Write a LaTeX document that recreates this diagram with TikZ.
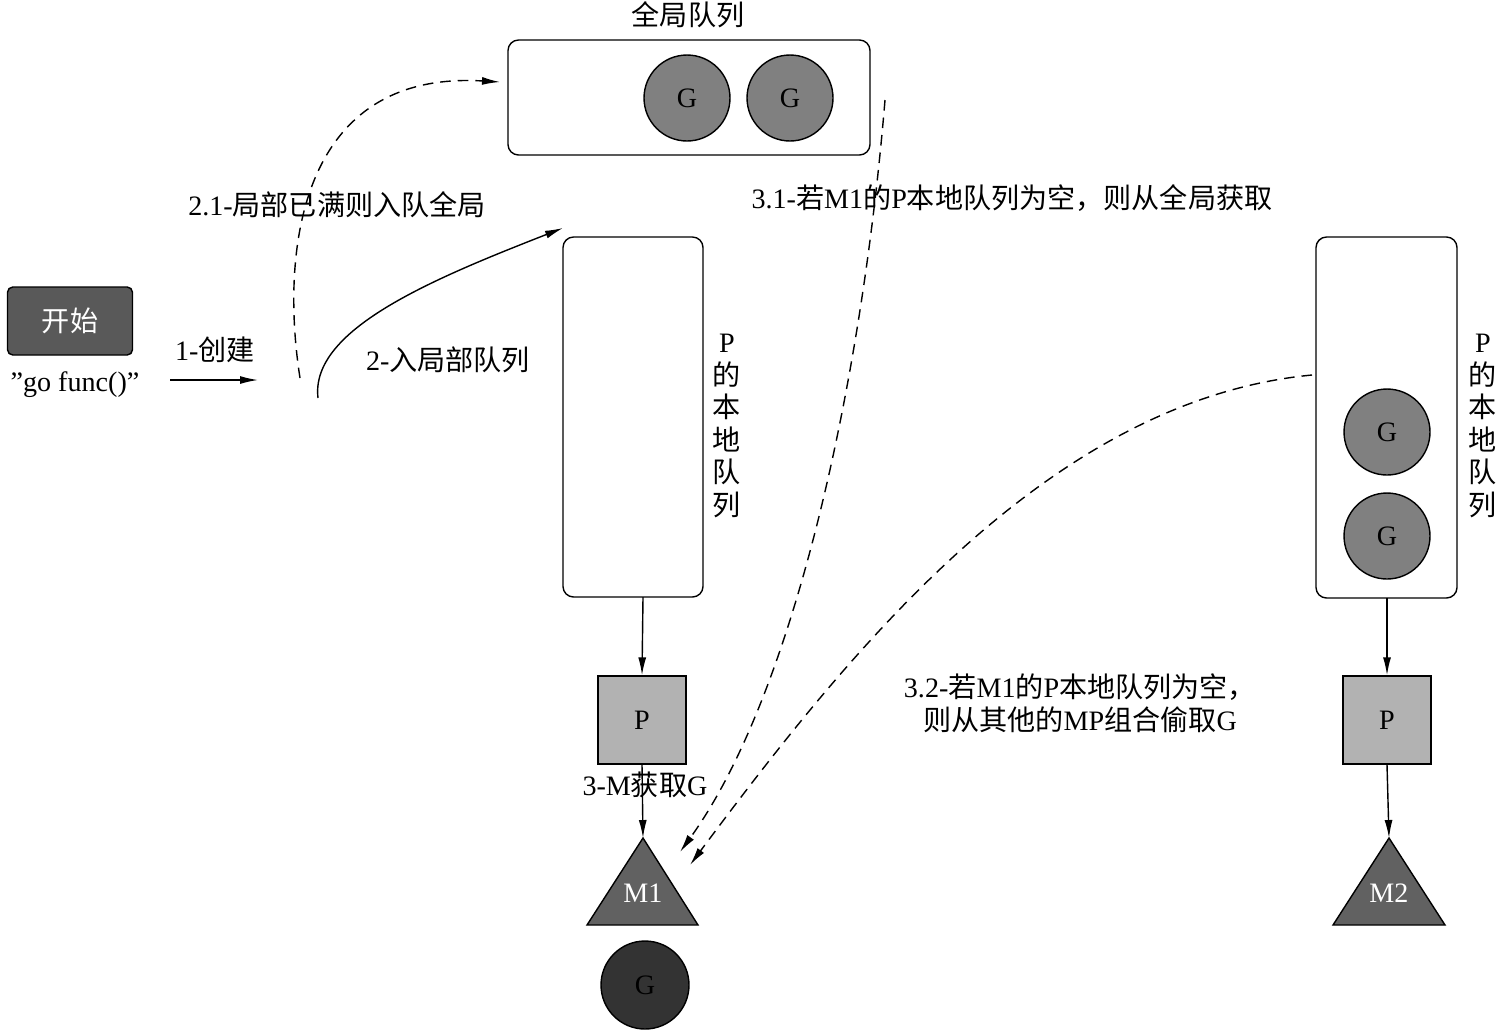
\documentclass[tikz,border=0pt]{standalone}
\usepackage{fontspec}
\setmainfont{Liberation Serif}
\newfontfamily\cjk{Noto Sans CJK SC}
\usetikzlibrary{arrows.meta}
\begin{document}
\begin{tikzpicture}[x=0.02cm,y=-0.02cm,
  every node/.style={font=\fontsize{16}{19}\selectfont},
  box/.style={draw,rounded corners=6pt,line width=0.8pt},
  gc/.style={draw,circle,minimum size=1.72cm,inner sep=0pt,fill=gray!100!black!50,line width=0.8pt,font=\fontsize{16}{19}\selectfont},
  pbox/.style={draw,fill=black!30,minimum size=1.76cm,inner sep=0pt,line width=0.8pt},
  tip/.style={-{Latex[length=0.36cm,width=0.16cm]}},
  conn/.style={tip,line width=0.8pt},
  dconn/.style={tip,line width=0.8pt,dash pattern=on 6pt off 4pt}]
\useasboundingbox (0,0) rectangle (1500,1029);
% global queue
\node (gqt) at (688,15) {\cjk 全局队列};
\draw[box] (508,40) rectangle (870,155);
\coordinate (gq) at (508,82);
\node[gc,fill=black!50] (g1) at (687,98) {G};
\node[gc,fill=black!50] (g2) at (790,98) {G};
% start
\node[draw,fill=black!65,text=white,rounded corners=3pt,minimum width=2.5cm,minimum height=1.36cm,line width=0.8pt] (start) at (70,321) {\cjk 开始};
\node (gofunc) at (75,385) {"go func()"};
\node (create) at (215,350) {1-{\cjk 创建}};
\coordinate (c1) at (170,380); \coordinate (c2) at (258,380);
\draw[conn] (c1) -- (c2);
% 2.1
\node (l21) at (337,205) {2.1-{\cjk 局部已满则入队全局}};
\coordinate (d1) at (300,378);
\draw[dconn] (d1) .. controls (280,250) and (300,70) .. (500,82);
\node (l2) at (448,360) {2-{\cjk 入局部队列}};
\coordinate (s1) at (318,398); \coordinate (s2) at (563,228);
\draw[conn] (s1) .. controls (310,330) and (430,280) .. (s2);
% P1 local queue
\draw[box] (563,237) rectangle (703,597);
\coordinate (q1b) at (643,597);
\node[align=center,font=\fontsize{16}{18.5}\selectfont] (q1l) at (727,426) {P\\{\cjk 的}\\{\cjk 本}\\{\cjk 地}\\{\cjk 队}\\{\cjk 列}};
\node[pbox] (p1) at (642,720) {P};
\draw[conn] (q1b) -- (p1.north);
\node (l3) at (645,785) {3-M{\cjk 获取}G};
\fill[black!62] (643,838) -- (698,925) -- (587,925) -- cycle;
\draw[line width=0.8pt] (643,838) -- (698,925) -- (587,925) -- cycle;
\node[text=white] (m1) at (643,893) {M1};
\coordinate (m1t) at (643,838);
\draw[conn] (p1.south) -- (m1t);
\node[gc,fill=black!80,minimum size=1.76cm] (g3) at (645,985) {G};
% 3.1
\node (l31) at (1012,198) {3.1-{\cjk 若}M1{\cjk 的}P{\cjk 本地队列为空，则从全局获取}};
\coordinate (e1) at (885,100); \coordinate (e2) at (680,852);
\draw[dconn] (e1) .. controls (860,400) and (790,700) .. (e2);
% right queue
\draw[box] (1316,237) rectangle (1457,598);
\node[gc,fill=black!50] (g4) at (1387,432) {G};
\node[gc,fill=black!50] (g5) at (1387,536) {G};
\node[align=center,font=\fontsize{16}{18.5}\selectfont] (q2l) at (1483,426) {P\\{\cjk 的}\\{\cjk 本}\\{\cjk 地}\\{\cjk 队}\\{\cjk 列}};
\coordinate (f1) at (1312,375); \coordinate (f2) at (690,865);
\draw[dconn] (f1) .. controls (1050,400) and (850,650) .. (f2);
\node[align=center] (l32) at (1080,703) {3.2-{\cjk 若}M1{\cjk 的}P{\cjk 本地队列为空，}\\{\cjk 则从其他的}MP{\cjk 组合偷取}G};
\coordinate (q2b) at (1387,598);
\node[pbox] (p2) at (1387,720) {P};
\draw[conn] (q2b) -- (p2.north);
\fill[black!62] (1389,838) -- (1445,925) -- (1333,925) -- cycle;
\draw[line width=0.8pt] (1389,838) -- (1445,925) -- (1333,925) -- cycle;
\node[text=white] (m2) at (1389,893) {M2};
\coordinate (m2t) at (1389,838);
\draw[conn] (p2.south) -- (m2t);
\end{tikzpicture}
\end{document}
